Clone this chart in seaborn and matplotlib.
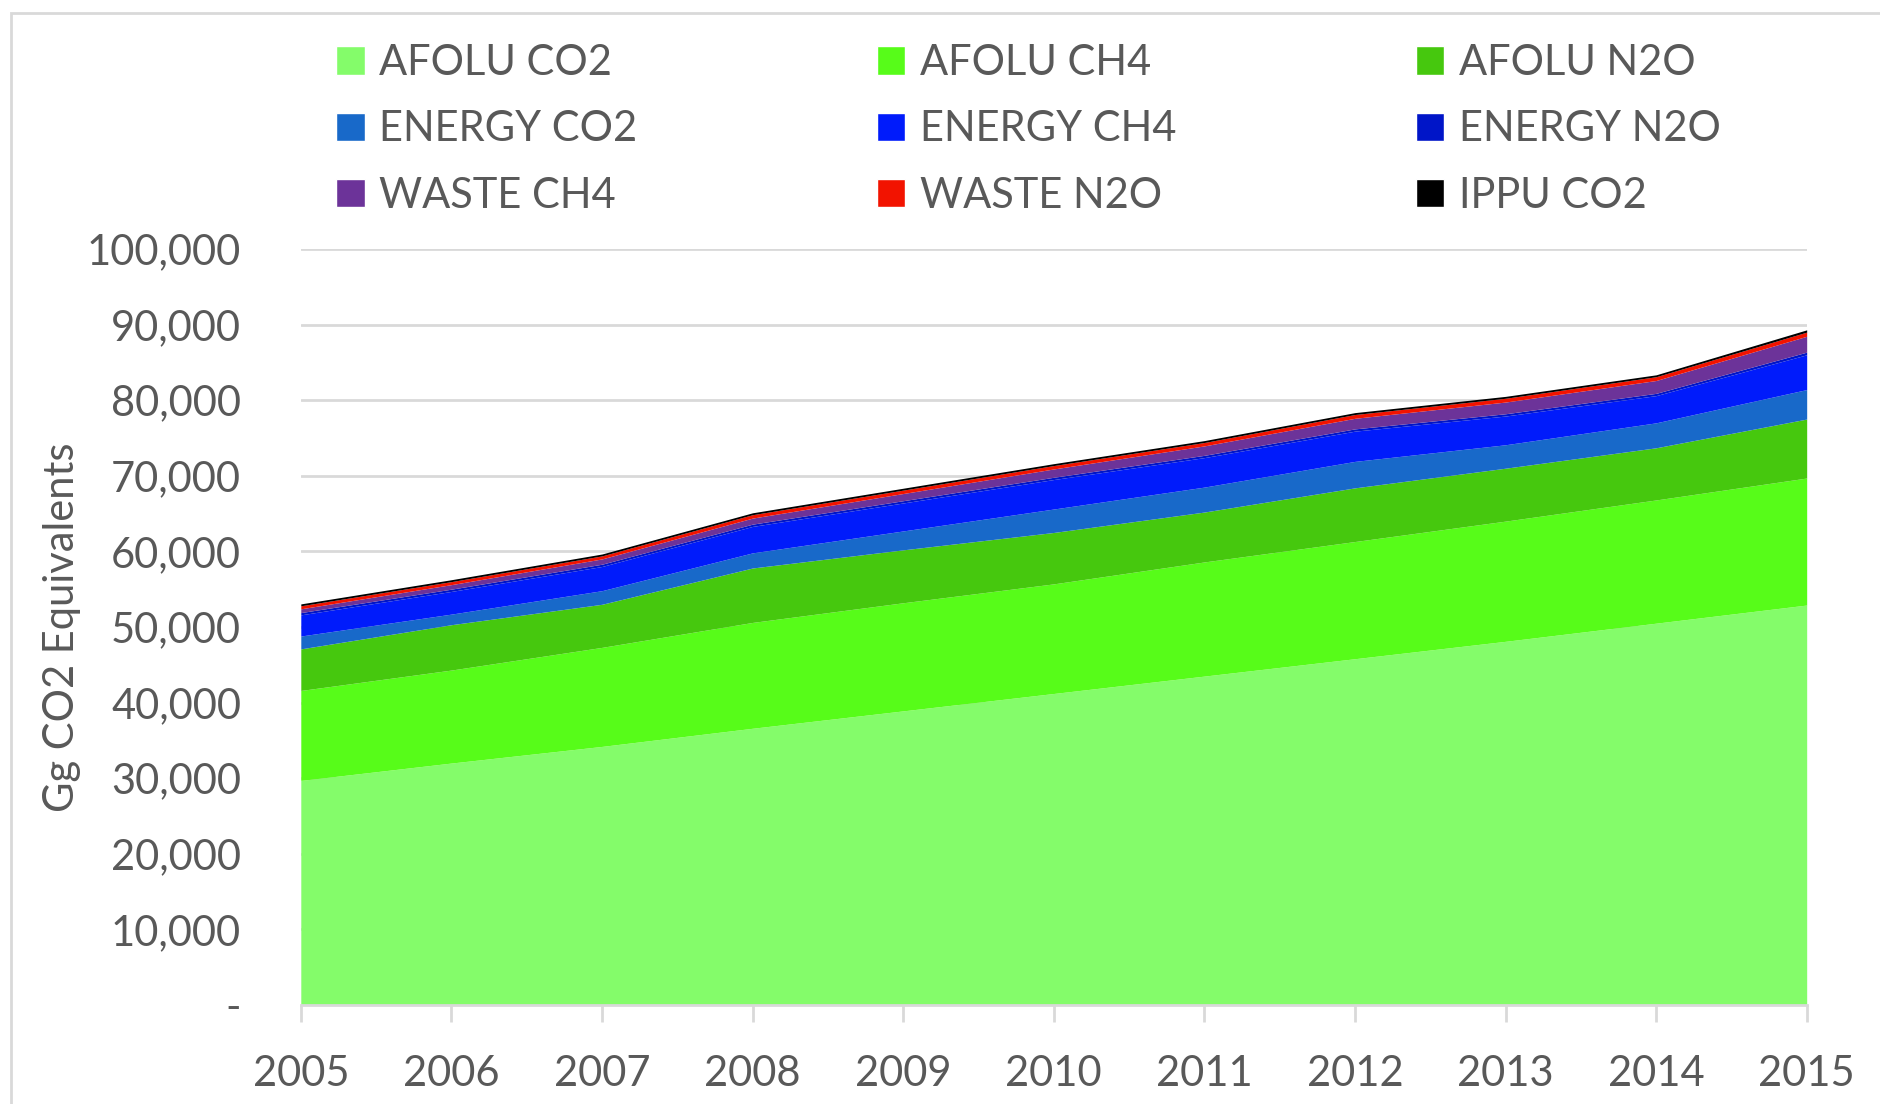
import numpy as np
import matplotlib.pyplot as plt
import seaborn as sns
from matplotlib.patches import Patch, Rectangle
from matplotlib.ticker import FuncFormatter

# data (Gg CO2 eq)
years = [2005, 2006, 2007, 2008, 2009, 2010, 2011, 2012, 2013, 2014, 2015]
afolu_co2 = [29700, 32000, 34200, 36600, 38900, 41200, 43500, 45800, 48100, 50500, 52900]
afolu_ch4 = [11900, 12300, 13100, 14000, 14300, 14500, 15100, 15500, 15900, 16300, 16800]
afolu_n2o = [5500, 6000, 5700, 7200, 7000, 6800, 6600, 7100, 7000, 6900, 7800]
energy_co2 = [1700, 1400, 1800, 2000, 2500, 3100, 3300, 3500, 3100, 3300, 3900]
energy_ch4 = [2800, 3000, 3200, 3500, 3700, 3900, 3900, 4000, 3800, 3600, 4600]
energy_n2o = [300, 300, 300, 300, 300, 300, 300, 300, 300, 300, 350]
waste_ch4 = [500, 600, 700, 800, 950, 1100, 1250, 1400, 1550, 1700, 2100]
waste_n2o = [400, 400, 400, 450, 450, 450, 450, 500, 500, 500, 550]
ippu_co2 = [250, 250, 250, 250, 250, 250, 250, 250, 250, 250, 300]

series = ['AFOLU CO2', 'AFOLU CH4', 'AFOLU N2O', 'ENERGY CO2', 'ENERGY CH4',
          'ENERGY N2O', 'WASTE CH4', 'WASTE N2O', 'IPPU CO2']
values = [afolu_co2, afolu_ch4, afolu_n2o, energy_co2, energy_ch4,
          energy_n2o, waste_ch4, waste_n2o, ippu_co2]
colors = ['#84FC6A', '#57FC19', '#46C80E', '#1869C9', '#001BFB',
          '#0015C8', '#6C3399', '#F21300', '#000000']

sns.set_theme(style='white')
plt.rcParams['font.family'] = ['Lato', 'DejaVu Sans']
txt = '#595959'

fig = plt.figure(figsize=(18.8, 11.04), dpi=100)
ax = fig.add_axes([0.160, 0.0897, 0.801, 0.6848])

ax.stackplot(years, *values, colors=colors, linewidth=0)

ax.set_xlim(2005, 2015)
ax.set_ylim(0, 100000)
ax.set_xticks(years)
ax.set_yticks(np.arange(0, 100001, 10000))
ax.yaxis.set_major_formatter(FuncFormatter(lambda v, p: '-' if v == 0 else f'{int(v):,}'))
ax.grid(axis='y', color='#D9D9D9', linewidth=2)
ax.set_axisbelow(True)
sns.despine(ax=ax, left=True, top=True, right=True)
ax.spines['bottom'].set_color('#D9D9D9')
ax.spines['bottom'].set_linewidth(2)
ax.tick_params(axis='x', length=12, width=2, color='#D9D9D9', pad=24,
               labelsize=30, labelcolor=txt, bottom=True)
ax.tick_params(axis='y', length=0, pad=43, labelsize=30, labelcolor=txt)
ax.set_ylabel('Gg CO2 Equivalents', fontsize=30, color=txt, labelpad=4)

# legend laid out row-wise like the original
order = [0, 3, 6, 1, 4, 7, 2, 5, 8]
handles = [Patch(facecolor=colors[i], label=series[i]) for i in order]
fig.legend(handles=handles, ncol=3, loc='upper left', bbox_to_anchor=(0.159, 0.994),
           frameon=False, fontsize=30, handlelength=0.68, handleheight=0.68,
           handletextpad=0.35, columnspacing=5.75, labelspacing=0.68,
           labelcolor=txt)

fig.patches.append(Rectangle((0.006, -0.01), 1.1, 0.998, transform=fig.transFigure,
                             fill=False, edgecolor='#D9D9D9', linewidth=2))

fig.savefig('out.png', dpi=100)
